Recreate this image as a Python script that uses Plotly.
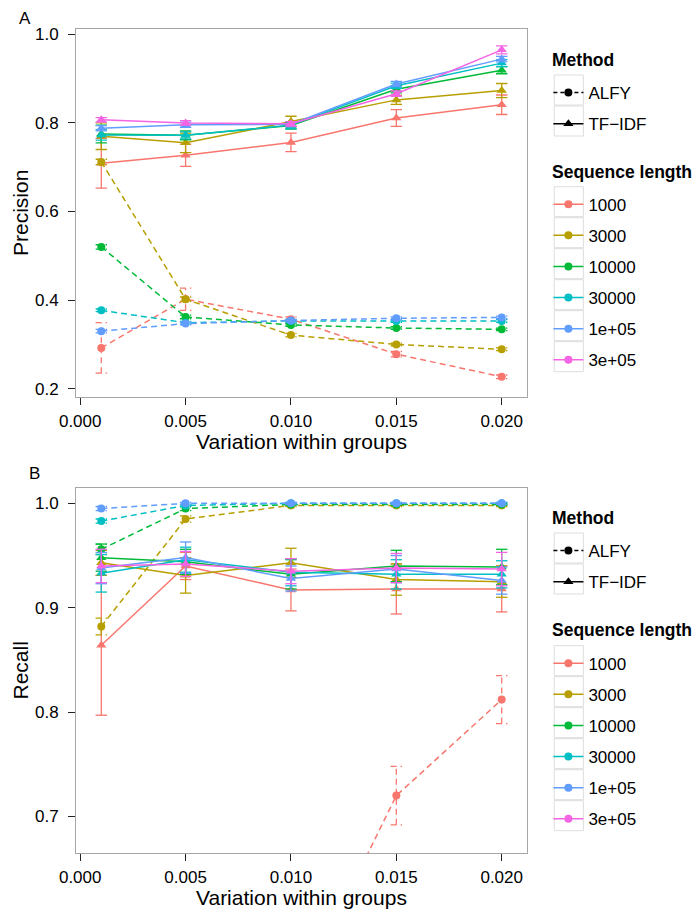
import plotly.graph_objects as go

# x values (variation within groups) and sequence lengths
variation = [0.001, 0.005, 0.010, 0.015, 0.020]
seq_lengths = ["1000", "3000", "10000", "30000", "1e+05", "3e+05"]
seq_colors = ["#F8766D", "#B79F00", "#00BA38", "#00BFC4", "#619CFF", "#F564E3"]

# ---- Panel A: precision, TF-IDF ----
prec_tfidf_1000 = [0.709, 0.727, 0.756, 0.811, 0.841]
prec_tfidf_3000 = [0.770, 0.755, 0.803, 0.852, 0.873]
prec_tfidf_10000 = [0.775, 0.772, 0.794, 0.876, 0.919]
prec_tfidf_30000 = [0.773, 0.772, 0.795, 0.884, 0.935]
prec_tfidf_1e5 = [0.788, 0.796, 0.797, 0.888, 0.944]
prec_tfidf_3e5 = [0.807, 0.800, 0.798, 0.866, 0.965]
se_prec_tfidf_1000 = [0.056, 0.025, 0.021, 0.019, 0.022]
se_prec_tfidf_3000 = [0.030, 0.022, 0.012, 0.010, 0.016]
se_prec_tfidf_10000 = [0.020, 0.010, 0.008, 0.008, 0.008]
se_prec_tfidf_30000 = [0.012, 0.008, 0.008, 0.006, 0.008]
se_prec_tfidf_1e5 = [0.006, 0.006, 0.006, 0.006, 0.006]
se_prec_tfidf_3e5 = [0.005, 0.005, 0.005, 0.006, 0.009]

# ---- Panel A: precision, ALFY (no 3e+05 run) ----
prec_alfy_1000 = [0.292, 0.402, 0.357, 0.278, 0.227]
prec_alfy_3000 = [0.712, 0.402, 0.321, 0.300, 0.289]
prec_alfy_10000 = [0.520, 0.362, 0.344, 0.337, 0.334]
prec_alfy_30000 = [0.377, 0.349, 0.353, 0.353, 0.353]
prec_alfy_1e5 = [0.330, 0.347, 0.354, 0.359, 0.361]
se_prec_alfy_1000 = [0.057, 0.025, 0.005, 0.006, 0.004]
se_prec_alfy_3000 = [0.006, 0.005, 0.004, 0.003, 0.003]
se_prec_alfy_10000 = [0.005, 0.004, 0.003, 0.003, 0.003]
se_prec_alfy_30000 = [0.003, 0.003, 0.003, 0.003, 0.003]
se_prec_alfy_1e5 = [0.004, 0.003, 0.003, 0.003, 0.003]

# ---- Panel B: recall, TF-IDF ----
rec_tfidf_1000 = [0.864, 0.940, 0.917, 0.918, 0.918]
rec_tfidf_3000 = [0.943, 0.931, 0.943, 0.927, 0.925]
rec_tfidf_10000 = [0.948, 0.944, 0.932, 0.940, 0.939]
rec_tfidf_30000 = [0.933, 0.946, 0.934, 0.932, 0.932]
rec_tfidf_1e5 = [0.938, 0.948, 0.928, 0.937, 0.926]
rec_tfidf_3e5 = [0.940, 0.942, 0.935, 0.938, 0.937]
se_rec_tfidf_1000 = [0.067, 0.013, 0.020, 0.024, 0.022]
se_rec_tfidf_3000 = [0.012, 0.017, 0.014, 0.015, 0.015]
se_rec_tfidf_10000 = [0.013, 0.012, 0.014, 0.015, 0.017]
se_rec_tfidf_30000 = [0.018, 0.012, 0.013, 0.014, 0.013]
se_rec_tfidf_1e5 = [0.015, 0.015, 0.012, 0.013, 0.013]
se_rec_tfidf_3e5 = [0.016, 0.012, 0.012, 0.014, 0.016]

# ---- Panel B: recall, ALFY (1000 below the axis for small variation) ----
rec_alfy_1000 = [None, None, 0.515, 0.720, 0.812]
rec_alfy_3000 = [0.882, 0.985, 0.998, 0.998, 0.998]
rec_alfy_10000 = [0.956, 0.995, 0.999, 0.999, 0.999]
rec_alfy_30000 = [0.983, 0.998, 1.000, 1.000, 1.000]
rec_alfy_1e5 = [0.995, 1.000, 1.000, 1.000, 1.000]
se_rec_alfy_1000 = [None, None, 0.030, 0.028, 0.023]
se_rec_alfy_3000 = [0.008, 0.003, 0.001, 0.001, 0.001]
se_rec_alfy_10000 = [0.005, 0.002, 0.001, 0.001, 0.001]
se_rec_alfy_30000 = [0.002, 0.001, 0.001, 0.001, 0.001]
se_rec_alfy_1e5 = [0.002, 0.001, 0.001, 0.001, 0.001]

prec_tfidf = [prec_tfidf_1000, prec_tfidf_3000, prec_tfidf_10000,
              prec_tfidf_30000, prec_tfidf_1e5, prec_tfidf_3e5]
se_prec_tfidf = [se_prec_tfidf_1000, se_prec_tfidf_3000, se_prec_tfidf_10000,
                 se_prec_tfidf_30000, se_prec_tfidf_1e5, se_prec_tfidf_3e5]
prec_alfy = [prec_alfy_1000, prec_alfy_3000, prec_alfy_10000,
             prec_alfy_30000, prec_alfy_1e5, None]
se_prec_alfy = [se_prec_alfy_1000, se_prec_alfy_3000, se_prec_alfy_10000,
                se_prec_alfy_30000, se_prec_alfy_1e5, None]
rec_tfidf = [rec_tfidf_1000, rec_tfidf_3000, rec_tfidf_10000,
             rec_tfidf_30000, rec_tfidf_1e5, rec_tfidf_3e5]
se_rec_tfidf = [se_rec_tfidf_1000, se_rec_tfidf_3000, se_rec_tfidf_10000,
                se_rec_tfidf_30000, se_rec_tfidf_1e5, se_rec_tfidf_3e5]
rec_alfy = [rec_alfy_1000, rec_alfy_3000, rec_alfy_10000,
            rec_alfy_30000, rec_alfy_1e5, None]
se_rec_alfy = [se_rec_alfy_1000, se_rec_alfy_3000, se_rec_alfy_10000,
               se_rec_alfy_30000, se_rec_alfy_1e5, None]

FONT = "Liberation Sans, Arial, Helvetica, sans-serif"
CAP = 0.00027  # half width of the error bar caps (x units)
DASH = "6px,4px"

# page geometry (px). The html body has an 8px margin, so the figure is
# 8px smaller than the window and page positions are shifted by OFF.
OFF = 8
W, H = 700 - OFF, 909 - OFF
M_L, M_R, M_T, M_B = 55, 173, 21, 56
PW, PH = W - M_L - M_R, H - M_T - M_B


def px_x(px):
    return (px - OFF - M_L) / PW


def px_y(py):
    return (H - M_B - (py - OFF)) / PH


def errorbar_trace(xs, ys, se, color, dash, xa, ya):
    ''' errorbar with caps, drawn as one line trace '''
    ex, ey = [], []
    for x, y, s in zip(xs, ys, se):
        if y is None or s is None:
            continue
        ex += [x, x, None, x - CAP, x + CAP, None, x - CAP, x + CAP, None]
        ey += [y - s, y + s, None, y + s, y + s, None, y - s, y - s, None]
    return go.Scatter(x=ex, y=ey, mode="lines", xaxis=xa, yaxis=ya,
                      line=dict(color=color, width=1.3, dash=dash),
                      showlegend=False, hoverinfo="skip")


def add_panel(fig, tfidf, se_tfidf, alfy, se_alfy, xa, ya):
    ''' add both methods for every sequence length '''
    for i, color in enumerate(seq_colors):
        if alfy[i] is not None:
            fig.add_trace(errorbar_trace(variation, alfy[i], se_alfy[i], color, DASH, xa, ya))
            fig.add_trace(go.Scatter(x=variation, y=alfy[i], mode="lines+markers",
                                     xaxis=xa, yaxis=ya, showlegend=False,
                                     line=dict(color=color, width=1.5, dash=DASH),
                                     marker=dict(symbol="circle", size=8, color=color)))
        fig.add_trace(errorbar_trace(variation, tfidf[i], se_tfidf[i], color, "solid", xa, ya))
        fig.add_trace(go.Scatter(x=variation, y=tfidf[i], mode="lines+markers",
                                 xaxis=xa, yaxis=ya, showlegend=False,
                                 line=dict(color=color, width=1.5),
                                 marker=dict(symbol="triangle-up", size=9, color=color)))


def add_legend_entries(fig, legend_method, legend_seq, xa, ya):
    ''' dummy traces that only fill the legends '''
    fig.add_trace(go.Scatter(x=[None], y=[None], mode="lines+markers", name="ALFY",
                             xaxis=xa, yaxis=ya, legend=legend_method, legendgroup=legend_method + "a",
                             line=dict(color="black", width=1.5, dash="4px,3px"),
                             marker=dict(symbol="circle", size=8, color="black")))
    fig.add_trace(go.Scatter(x=[None], y=[None], mode="lines+markers", name="TF\u2212IDF",
                             xaxis=xa, yaxis=ya, legend=legend_method, legendgroup=legend_method + "b",
                             line=dict(color="black", width=1.5),
                             marker=dict(symbol="triangle-up", size=9, color="black")))
    for name, color in zip(seq_lengths, seq_colors):
        fig.add_trace(go.Scatter(x=[None], y=[None], mode="lines+markers", name=name,
                                 xaxis=xa, yaxis=ya, legend=legend_seq,
                                 legendgroup=legend_seq + name,
                                 line=dict(color=color, width=1.5),
                                 marker=dict(symbol="circle", size=8, color=color)))


fig = go.Figure()
add_panel(fig, prec_tfidf, se_prec_tfidf, prec_alfy, se_prec_alfy, "x", "y")
add_panel(fig, rec_tfidf, se_rec_tfidf, rec_alfy, se_rec_alfy, "x2", "y2")
add_legend_entries(fig, "legend", "legend2", "x", "y")
add_legend_entries(fig, "legend3", "legend4", "x2", "y2")

axis_style = dict(showline=True, linecolor="#A6A6A6", linewidth=1, mirror=True,
                  ticks="outside", ticklen=7, tickcolor="#222222", tickwidth=1.2,
                  showgrid=False, zeroline=False,
                  tickfont=dict(size=17, color="black", family=FONT),
                  title_font=dict(size=21, color="black", family=FONT))

ITEM_STEP = 31
legend_style = dict(xanchor="left", yanchor="top", x=px_x(549), bgcolor="rgba(0,0,0,0)",
                    font=dict(size=17, family=FONT, color="black"),
                    tracegroupgap=6, itemwidth=30)

# (title centre, first item centre, number of items) for the four guides
guides = [("Method", 60, 90, 2, "legend"), ("Sequence length", 171.7, 201.7, 6, "legend2"),
          ("Method", 518, 548, 2, "legend3"), ("Sequence length", 630, 660.7, 6, "legend4")]

legends = {}
annotations = []
shapes = []
for title, ty, first, n, key in guides:
    legends[key] = dict(legend_style, y=px_y(first - 15))
    annotations.append(dict(text="<b>" + title + "</b>", xref="paper", yref="paper",
                            x=px_x(551), y=px_y(ty), showarrow=False, xanchor="left",
                            yanchor="middle", font=dict(size=17.5, family=FONT, color="black")))
    for k in range(n):
        cy = first + k * ITEM_STEP
        shapes.append(dict(type="rect", xref="paper", yref="paper", layer="below",
                           x0=px_x(555), x1=px_x(585), y0=px_y(cy - 15), y1=px_y(cy + 15),
                           line=dict(color="#DDDDDD", width=1), fillcolor="rgba(0,0,0,0)"))

# x axis titles, placed like ggplot's
for ty in (442, 897):
    annotations.append(dict(text="Variation within groups", xref="paper", yref="paper",
                            x=px_x(295.5), y=px_y(ty), showarrow=False, xanchor="center",
                            yanchor="middle", borderpad=0,
                            font=dict(size=21, family=FONT, color="black")))

annotations += [
    dict(text="A", xref="paper", yref="paper", x=px_x(11), y=px_y(19), showarrow=False,
         xanchor="center", yanchor="middle", font=dict(size=17, family=FONT)),
    dict(text="B", xref="paper", yref="paper", x=px_x(20), y=px_y(473), showarrow=False,
         xanchor="center", yanchor="middle", font=dict(size=17, family=FONT)),
]

xticks = dict(tickvals=[0, 0.005, 0.01, 0.015, 0.02], tickformat=".3f", ticklabelstandoff=2,
              domain=[0, 1], range=[-0.0002, 0.0212])

fig.update_layout(
    width=W, height=H,
    margin=dict(l=M_L, r=M_R, t=M_T, b=M_B),
    paper_bgcolor="white", plot_bgcolor="white",
    font=dict(family=FONT, color="black"),
    xaxis=dict(axis_style, **xticks, anchor="y"),
    yaxis=dict(axis_style, domain=[px_y(396.7), 1], range=[0.182, 1.012], tickvals=[0.2, 0.4, 0.6, 0.8, 1.0],
               tickformat=".1f", anchor="x", ticklabelstandoff=6, title=dict(text="Precision", standoff=0)),
    xaxis2=dict(axis_style, **xticks, anchor="y2"),
    yaxis2=dict(axis_style, domain=[0, px_y(487.7)], range=[0.665, 1.015], tickvals=[0.7, 0.8, 0.9, 1.0],
                tickformat=".1f", anchor="x2", ticklabelstandoff=6, title=dict(text="Recall", standoff=0)),
    annotations=annotations,
    shapes=shapes,
    **legends,
)

fig.write_html("out.html")
